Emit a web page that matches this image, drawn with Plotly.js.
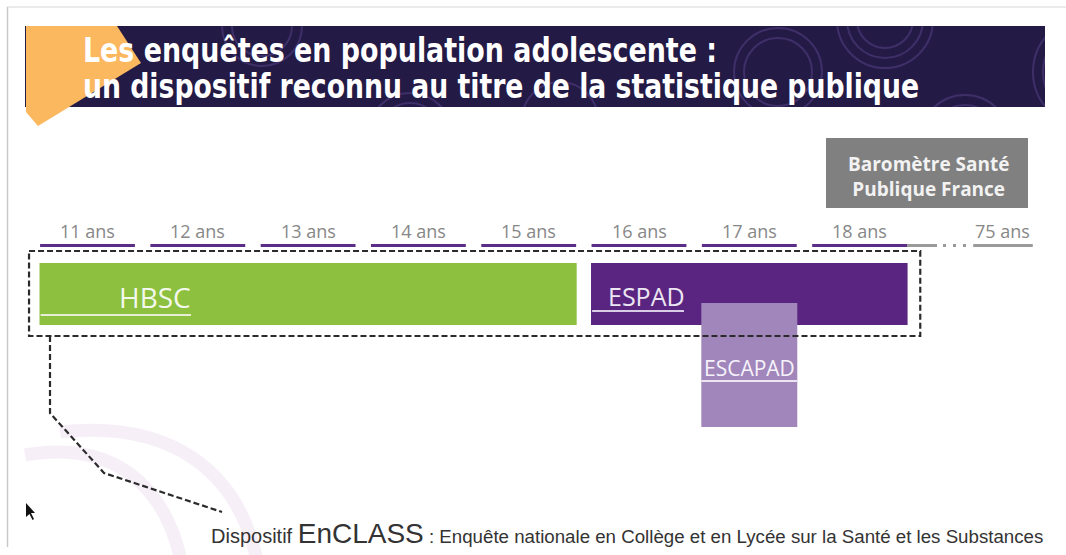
<!DOCTYPE html>
<html>
<head>
<meta charset="utf-8">
<script src="https://cdn.plot.ly/plotly-3.0.1.min.js"></script>
<style>html,body{margin:0;padding:0;background:#fff;}#chart{width:1066px;height:555px;}</style>
</head>
<body>
<div id="chart"></div>
<script>
// ---- data ----
const ages = [11, 12, 13, 14, 15, 16, 17, 18];
const farAge = 75;
const ageSuffix = " ans";
const surveys = ["HBSC", "ESPAD", "ESCAPAD"];
const ageStart = [11, 16, 17];
const ageEnd = [15, 18, 17];
const titleLines = ["Les enquêtes en population adolescente :", "un dispositif reconnu au titre de la statistique publique"];
const boxLines = ["Baromètre Santé", "Publique France"];
const footLead = "Dispositif ";
const footName = "EnCLASS";
const footRest = " : Enquête nationale en Collège et en Lycée sur la Santé et les Substances";

// ---- layout helpers ----
const W = 1066, H = 555;
const X0 = 87.5, STEP = 110.3;
const slot = a => (a <= 18 ? a - 11 : 8.3);
const px = x => x / W, py = y => 1 - y / H;
const xOfPx = p => (p - X0) / STEP;
const HALF = 0.435;

const barColors = ["#8cc03e", "#592580", "#a086ba"];
const rowY = [294, 294, 365];
const rowT = [62, 62, 124];

const traces = surveys.map((s, i) => ({
  type: "bar", orientation: "h",
  y: [rowY[i]], base: [slot(ageStart[i]) - HALF],
  x: [slot(ageEnd[i]) - slot(ageStart[i]) + 2 * HALF],
  width: [rowT[i]], marker: {color: barColors[i], line: {width: 0}},
  hoverinfo: "skip", name: s
}));

const shapes = [];
const P = (x, y) => px(x) + "," + py(y);
// banner
shapes.push({type: "rect", xref: "paper", yref: "paper", x0: px(25), x1: px(1045), y0: py(107), y1: py(26), fillcolor: "#241a46", line: {width: 0}, layer: "below"});
const rings = [[885, 20, [48, 38, 28]], [778, 72, [44, 34]], [1088, 72, [55, 45, 35]], [965, 140, [45, 35]], [410, 135, [42, 32]], [262, 26, [40, 30]], [560, 120, [38]]];
rings.forEach(([cx, cy, rs]) => rs.forEach(r => shapes.push({type: "circle", xref: "paper", yref: "paper", x0: px(cx - r), x1: px(cx + r), y0: py(cy + r), y1: py(cy - r), line: {color: "rgba(110,85,165,0.36)", width: 2}, layer: "below"})));
// white covers to clip rings to banner
[[0, 0, W, 26], [0, 107, W, 200], [1045, 0, W, 200], [0, 0, 25, 200]].forEach(([a, b, c, d]) => shapes.push({type: "rect", xref: "paper", yref: "paper", x0: px(a), x1: px(c), y0: py(d), y1: py(b), fillcolor: "#ffffff", line: {width: 0}, layer: "below"}));
// orange corner
const orange = [[26, 26], [117, 26], [141, 63], [38, 126], [26, 112]];
shapes.push({type: "path", xref: "paper", yref: "paper", path: "M " + orange.map(p => P(p[0], p[1])).join(" L ") + " Z", fillcolor: "#fbb85e", line: {width: 0}, layer: "below"});
// frame
shapes.push({type: "line", xref: "paper", yref: "paper", x0: px(7), x1: px(1066), y0: py(7), y1: py(7), line: {color: "#e4e4e4", width: 1.5}, layer: "below"});
shapes.push({type: "line", xref: "paper", yref: "paper", x0: px(7.5), x1: px(7.5), y0: py(7), y1: py(547), line: {color: "#c9c9c9", width: 1.5}, layer: "below"});
// faint pink arcs
const curve = pts => "M " + P(pts[0][0], pts[0][1]) + " C " + pts.slice(1).map(p => P(p[0], p[1])).join(" ");
shapes.push({type: "path", xref: "paper", yref: "paper", path: curve([[25, 455], [110, 440], [162, 482], [180, 556]]), line: {color: "rgba(238,220,240,0.45)", width: 13}, layer: "below"});
shapes.push({type: "path", xref: "paper", yref: "paper", path: curve([[60, 432], [170, 420], [236, 470], [256, 556]]), line: {color: "rgba(238,220,240,0.45)", width: 13}, layer: "below"});
// cursor
const cur = [[26, 503], [26, 517], [29.5, 514], [32.5, 520], [34, 519], [31, 513], [35, 513]];
shapes.push({type: "path", xref: "paper", yref: "paper", path: "M " + cur.map(p => P(p[0], p[1])).join(" L ") + " Z", fillcolor: "#111", line: {width: 0}, layer: "above"});

// grey Baromètre box
shapes.push({type: "rect", xref: "paper", yref: "paper", x0: px(826), x1: px(1028), y0: py(208), y1: py(138), fillcolor: "#808080", line: {width: 0}, layer: "below"});

// age underlines
ages.forEach(a => shapes.push({type: "line", xref: "x", yref: "y", x0: slot(a) - 0.43, x1: slot(a) + 0.43, y0: 245.5, y1: 245.5, line: {color: "#5b2d87", width: 3}, layer: "above"}));
shapes.push({type: "line", xref: "x", yref: "y", x0: slot(18) + 0.43, x1: xOfPx(937), y0: 245.5, y1: 245.5, line: {color: "#9a9a9a", width: 3}, layer: "above"});
shapes.push({type: "line", xref: "x", yref: "y", x0: xOfPx(943), x1: xOfPx(968), y0: 245.5, y1: 245.5, line: {color: "#9a9a9a", width: 3, dash: "3px,7px"}, layer: "above"});
shapes.push({type: "line", xref: "x", yref: "y", x0: slot(farAge) - 0.27, x1: slot(farAge) + 0.27, y0: 245.5, y1: 245.5, line: {color: "#9a9a9a", width: 3}, layer: "above"});

// label underlines inside bars
shapes.push({type: "line", xref: "x", yref: "y", x0: slot(ageStart[0]) - HALF + 0.01, x1: xOfPx(191), y0: 315, y1: 315, line: {color: "#e6efd6", width: 2}, layer: "above"});
shapes.push({type: "line", xref: "x", yref: "y", x0: slot(ageStart[1]) - HALF + 0.01, x1: xOfPx(684), y0: 311, y1: 311, line: {color: "#d9cde6", width: 2}, layer: "above"});
shapes.push({type: "line", xref: "x", yref: "y", x0: slot(ageStart[2]) - HALF, x1: slot(ageEnd[2]) + HALF, y0: 381, y1: 381, line: {color: "#ece4f3", width: 2}, layer: "above"});

// dashed EnCLASS box
const dash = {color: "#2b2b2b", width: 2.2, dash: "6px,3px"};
shapes.push({type: "rect", xref: "x", yref: "y", x0: slot(ages[0]) - 0.53, x1: slot(ages[ages.length - 1]) + 0.55, y0: 251, y1: 336, line: dash, layer: "above"});
const conn = [[50, 336], [50, 413], [104, 473], [222, 512]];
shapes.push({type: "path", xref: "paper", yref: "paper", path: "M " + conn.map(p => P(p[0], p[1])).join(" L "), line: dash, layer: "above"});

// ---- annotations ----
const ann = [];
const titleFont = {family: "DejaVu Sans Condensed, sans-serif", size: 34, color: "#ffffff", weight: "bold"};
ann.push({xref: "paper", yref: "paper", x: px(81), y: py(50), xanchor: "left", yanchor: "middle", text: titleLines[0], showarrow: false, font: titleFont});
ann.push({xref: "paper", yref: "paper", x: px(81), y: py(86), xanchor: "left", yanchor: "middle", text: titleLines[1], showarrow: false, font: titleFont});
ages.concat([farAge]).forEach(a => ann.push({xref: "x", yref: "y", x: slot(a), y: 231, xanchor: "center", yanchor: "middle", text: a + ageSuffix, showarrow: false, font: {family: "Open Sans", size: 18, color: "#878787"}}));
ann.push({xref: "paper", yref: "y", x: px(155), y: 297, xanchor: "center", yanchor: "middle", text: surveys[0], showarrow: false, font: {family: "Open Sans", size: 28, color: "#f4f8ec"}});
ann.push({xref: "paper", yref: "y", x: px(646), y: 296, xanchor: "center", yanchor: "middle", text: surveys[1], showarrow: false, font: {family: "Open Sans", size: 25, color: "#ece6f2"}});
ann.push({xref: "x", yref: "y", x: slot(ageStart[2]), y: 368, xanchor: "center", yanchor: "middle", text: surveys[2], showarrow: false, font: {family: "Open Sans", size: 21, color: "#f6f2fa"}});
ann.push({xref: "paper", yref: "paper", x: px(928), y: py(176), xanchor: "center", yanchor: "middle", text: boxLines.join("<br>"), showarrow: false, align: "center", font: {family: "Open Sans", size: 19, color: "#f2f2f2", weight: "bold"}});
ann.push({xref: "paper", yref: "paper", x: px(209), y: py(551), xanchor: "left", yanchor: "bottom", showarrow: false,
  text: '<span style="font-size:20px">' + footLead + '</span><span style="font-size:28px">' + footName + '</span><span style="font-size:18.7px">' + footRest + '</span>',
  font: {family: "Liberation Sans, Arial, sans-serif", size: 18, color: "#333333"}});

const layout = {
  width: W, height: H, margin: {l: 0, r: 0, t: 0, b: 0},
  paper_bgcolor: "#ffffff", plot_bgcolor: "rgba(0,0,0,0)",
  showlegend: false, barmode: "overlay",
  xaxis: {range: [xOfPx(0), xOfPx(W)], visible: false, fixedrange: true},
  yaxis: {range: [H, 0], visible: false, fixedrange: true},
  shapes: shapes, annotations: ann
};
const titleWidths = [634, 836];
Plotly.newPlot("chart", traces, layout, {staticPlot: true, displayModeBar: false}).then(gd => {
  gd.querySelectorAll("text.annotation-text").forEach(t => {
    const k = titleLines.indexOf(t.textContent);
    if (k >= 0) {
      const before = t.getBBox();
      t.setAttribute("textLength", titleWidths[k]);
      t.setAttribute("lengthAdjust", "spacingAndGlyphs");
      const after = t.getBBox();
      const x = parseFloat(t.getAttribute("x") || "0");
      t.setAttribute("x", x + (before.x - after.x));
    }
  });
});
</script>
</body>
</html>
